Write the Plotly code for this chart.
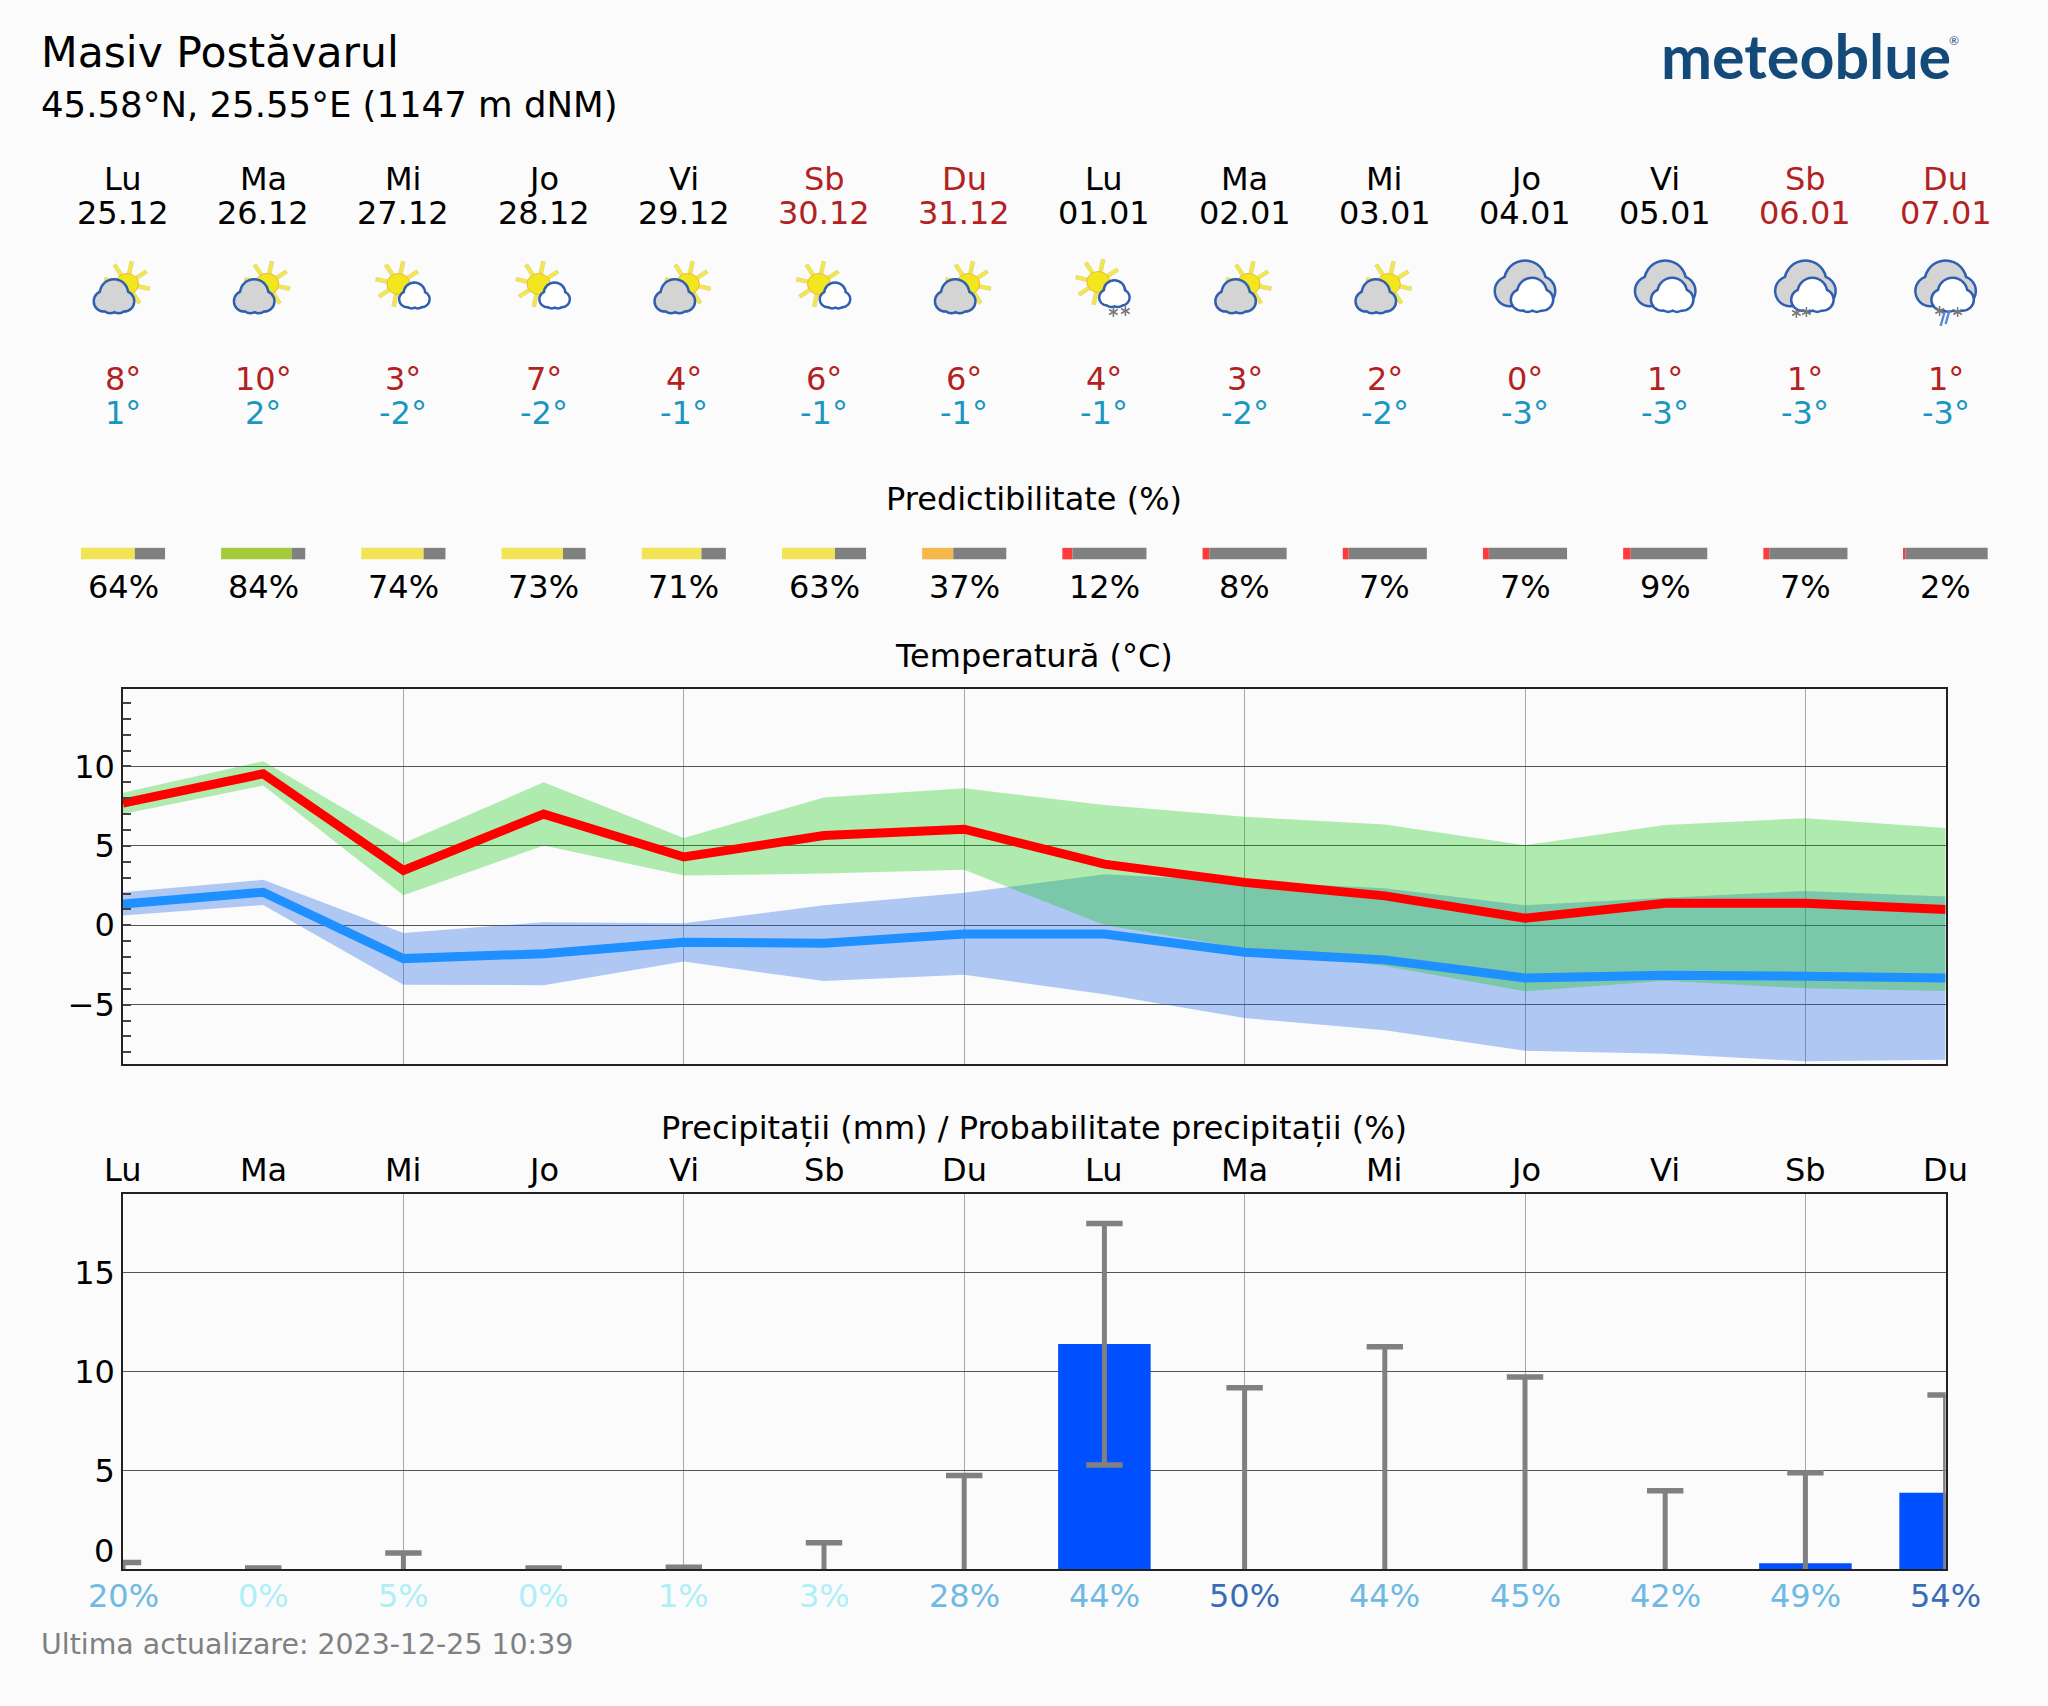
import base64
import math
import plotly.graph_objects as go

W, H = 2048, 1706

# ---------- data ----------
day_names = ["Lu", "Ma", "Mi", "Jo", "Vi", "Sb", "Du", "Lu", "Ma", "Mi", "Jo", "Vi", "Sb", "Du"]
dates = ["25.12", "26.12", "27.12", "28.12", "29.12", "30.12", "31.12",
         "01.01", "02.01", "03.01", "04.01", "05.01", "06.01", "07.01"]
weekend = [False, False, False, False, False, True, True, False, False, False, False, False, True, True]
icon_kinds = ["A", "A", "B", "B", "A", "B", "A", "C", "A", "A", "D", "D", "E", "F"]
tmax_label = [8, 10, 3, 7, 4, 6, 6, 4, 3, 2, 0, 1, 1, 1]
tmin_label = [1, 2, -2, -2, -1, -1, -1, -1, -2, -2, -3, -3, -3, -3]
predict = [64, 84, 74, 73, 71, 63, 37, 12, 8, 7, 7, 9, 7, 2]
predict_col = ["#f2e455", "#a4c93a", "#f2e455", "#f2e455", "#f2e455", "#f2e455", "#f5b84a",
               "#ff3b3b", "#ff3b3b", "#ff3b3b", "#ff3b3b", "#ff3b3b", "#ff3b3b", "#ff3b3b"]

days = list(range(14))
t_max_mean = [7.7, 9.54, 3.45, 7.0, 4.3, 5.65, 6.05, 3.85, 2.7, 1.85, 0.44, 1.39, 1.39, 1.0]
t_max_high = [8.35, 10.33, 5.17, 9.0, 5.5, 8.05, 8.63, 7.58, 6.83, 6.34, 5.04, 6.32, 6.74, 6.13]
t_max_low = [7.0, 8.8, 1.89, 5.02, 3.13, 3.26, 3.49, 0.02, -1.45, -2.56, -4.16, -3.49, -3.97, -4.14]
t_min_mean = [1.34, 2.08, -2.1, -1.79, -1.07, -1.13, -0.55, -0.55, -1.7, -2.18, -3.32, -3.15, -3.21, -3.32]
t_min_high = [2.08, 2.86, -0.48, 0.19, 0.13, 1.26, 2.04, 3.21, 2.75, 2.33, 1.26, 1.74, 2.16, 1.81]
t_min_low = [0.61, 1.28, -3.74, -3.78, -2.29, -3.51, -3.11, -4.35, -5.84, -6.62, -7.9, -8.09, -8.57, -8.47]

precip = [0, 0, 0, 0, 0, 0, 0, 11.4, 0, 0, 0, 0, 0.3, 3.88]
precip_high = [0.34, 0.07, 0.83, 0.07, 0.1, 1.35, 4.75, 17.5, 9.19, 11.26, 9.73, 3.98, 4.89, 8.82]
precip_low = [0, 0, 0, 0, 0, 0, 0, 5.28, 0, 0, 0, 0, 0, 0]
precip_prob = [20, 0, 5, 0, 1, 3, 28, 44, 50, 44, 45, 42, 49, 54]
prob_col = ["#6fb9e3", "#aeeff8", "#aeeff8", "#aeeff8", "#aeeff8", "#aeeff8", "#6fb9e3",
            "#6fb9e3", "#3a6cb8", "#6fb9e3", "#6fb9e3", "#6fb9e3", "#6fb9e3", "#3a6cb8"]

# ---------- layout constants (pixels) ----------
BG = "#fbfbfb"
FONT = "DejaVu Sans"
L, R = 123.0, 1945.6
DX = (R - L) / 13
T1, B1 = 688.7, 1063.7
T2, B2 = 1194.3, 1569.3
FS = 32


def dom_y(top, bottom):
    return [1 - bottom / H, 1 - top / H]


# ---------- icons ----------
BLUE_STROKE = "#2f5fb0"


def sun(cx, cy):
    s = ""
    for k in range(8):
        a = math.radians(12 + 45 * k)
        sx, sy = math.sin(a), -math.cos(a)
        px, py = math.cos(a) * 1.9, math.sin(a) * 1.9
        r0, r1 = 11, 23
        pts = [(cx + sx * r0 + px, cy + sy * r0 + py), (cx + sx * r1 + px, cy + sy * r1 + py),
               (cx + sx * r1 - px, cy + sy * r1 - py), (cx + sx * r0 - px, cy + sy * r0 - py)]
        s += '<polygon points="%s" fill="#f3e84a" stroke="#d9cf7a" stroke-width="0.6"/>' % " ".join(
            "%.1f,%.1f" % p for p in pts)
    s += '<ellipse cx="%s" cy="%s" rx="11.5" ry="10.5" fill="#f2e61e" stroke="#f5b53a" stroke-width="1"/>' % (cx, cy)
    return s


def cloud(x, y, w, h, fill):
    # x,y = top-left of the box; circles scaled into the box
    blobs = [(0.24, 0.66, 0.24), (0.50, 0.36, 0.34), (0.76, 0.66, 0.24), (0.40, 0.78, 0.20), (0.62, 0.78, 0.20)]
    a = b = ""
    for u, v, r in blobs:
        cx, cy, rad = x + u * w, y + v * h, r * w
        a += '<circle cx="%.1f" cy="%.1f" r="%.1f" fill="%s" stroke="%s" stroke-width="5"/>' % (
            cx, cy, rad, BLUE_STROKE, BLUE_STROKE)
    for u, v, r in blobs:
        cx, cy, rad = x + u * w, y + v * h, r * w
        b += '<circle cx="%.1f" cy="%.1f" r="%.1f" fill="%s"/>' % (cx, cy, rad, fill)
    return a + b


def snow(x, y):
    s = ""
    for k in range(3):
        a = math.radians(60 * k + 90)
        dx, dy = 5 * math.cos(a), 5 * math.sin(a)
        s += '<line x1="%.1f" y1="%.1f" x2="%.1f" y2="%.1f" stroke="#777" stroke-width="1.5"/>' % (
            x - dx, y - dy, x + dx, y + dy)
    return s


def rain(x, y):
    return '<line x1="%s" y1="%s" x2="%s" y2="%s" stroke="#5b86d0" stroke-width="2.4"/>' % (x + 2, y, x - 2, y + 14)


def big_clouds():
    return cloud(6, 20, 58, 32, "#d4d4d4") + cloud(22, 34, 40, 24, "#ffffff")


ICON_BODY = {
    "A": sun(39, 34) + cloud(7, 34, 38, 26, "#d4d4d4"),
    "B": sun(30, 34) + cloud(32, 36, 28, 20, "#ffffff"),
    "C": sun(29, 32) + cloud(31, 33, 28, 22, "#ffffff") + snow(44, 62) + snow(56, 61),
    "D": big_clouds(),
    "E": big_clouds() + snow(26, 63) + snow(36, 62),
    "F": big_clouds() + snow(29, 61) + snow(47, 62) + rain(32, 62) + rain(37, 60),
}


def icon_uri(kind):
    svg = ('<svg xmlns="http://www.w3.org/2000/svg" width="70" height="80" viewBox="0 0 70 80">'
           + ICON_BODY[kind] + "</svg>")
    return "data:image/svg+xml;base64," + base64.b64encode(svg.encode()).decode()


# ---------- figure ----------
fig = go.Figure()

# temperature bands and lines
BAND_BLUE = "rgba(35,103,229,0.35)"
BAND_GREEN = "rgba(0,200,0,0.30)"
for hi, lo, col in [(t_min_high, t_min_low, BAND_BLUE), (t_max_high, t_max_low, BAND_GREEN)]:
    fig.add_trace(go.Scatter(x=days, y=lo, mode="lines", line=dict(width=0), xaxis="x", yaxis="y"))
    fig.add_trace(go.Scatter(x=days, y=hi, mode="lines", line=dict(width=0), fill="tonexty",
                             fillcolor=col, xaxis="x", yaxis="y"))
fig.add_trace(go.Scatter(x=days, y=t_max_mean, mode="lines", line=dict(color="#ff0000", width=9),
                         xaxis="x", yaxis="y"))
fig.add_trace(go.Scatter(x=days, y=t_min_mean, mode="lines", line=dict(color="#1e90ff", width=9),
                         xaxis="x", yaxis="y"))

# precipitation bars and whiskers
fig.add_trace(go.Bar(x=days, y=precip, width=0.66, marker=dict(color="#0050ff", line=dict(width=0)),
                     xaxis="x2", yaxis="y2"))
stem_x, stem_y, cap_x, cap_y = [], [], [], []
for d, lo, hi in zip(days, precip_low, precip_high):
    stem_x += [d, d, None]
    stem_y += [lo, hi, None]
    cap_x.append(d)
    cap_y.append(hi)
    if lo > 0:
        cap_x.append(d)
        cap_y.append(lo)
fig.add_trace(go.Scatter(x=stem_x, y=stem_y, mode="lines", line=dict(color="#808080", width=5),
                         xaxis="x2", yaxis="y2"))
fig.add_trace(go.Scatter(x=cap_x, y=cap_y, mode="markers",
                         marker=dict(symbol="line-ew", size=26, line=dict(color="#808080", width=5.5)),
                         xaxis="x2", yaxis="y2"))

# predictability bars on the full-page overlay axes
PY = 553.6
fig.add_trace(go.Bar(orientation="h", base=[d - 0.3 for d in days], x=[0.6 * p / 100 for p in predict],
                     y=[PY] * 14, width=11.5, marker=dict(color=predict_col, line=dict(width=0)),
                     xaxis="x3", yaxis="y3"))
fig.add_trace(go.Bar(orientation="h", base=[d - 0.3 + 0.6 * p / 100 for d, p in zip(days, predict)],
                     x=[0.6 * (100 - p) / 100 for p in predict],
                     y=[PY] * 14, width=11.5, marker=dict(color="#808080", line=dict(width=0)),
                     xaxis="x3", yaxis="y3"))

ann = []


def text(x, y, s, size=FS, color="#000000", anchor="center", xref="x3", family=FONT, weight=None):
    f = dict(family=family, size=size, color=color)
    if weight:
        f["weight"] = weight
    ann.append(dict(x=x, y=y, text=s, xref=xref, yref="y3", showarrow=False, xanchor=anchor, yanchor="middle",
                    font=f))


def px2d(p):
    return (p - L) / DX


text(px2d(38.5), 52, "Masiv Postăvarul", size=42.5, anchor="left")
text(px2d(38.5), 104, "45.58°N, 25.55°E (1147 m dNM)", size=35.5, anchor="left")
text(px2d(1806), 55, "meteoblue", size=61, color="#144a7a", family="Lato", weight=700)
text(px2d(1947), 40, "®", size=12, color="#144a7a", family="Lato", anchor="left")
text(px2d(1034.3), 499, "Predictibilitate (%)")
text(px2d(1034.3), 656, "Temperatură (°C)")
text(px2d(1034.3), 1128, "Precipitații (mm) / Probabilitate precipitații (%)")
text(px2d(38.5), 1644, "Ultima actualizare: 2023-12-25 10:39", size=28.4, color="#808080", anchor="left")
text(px2d(116), 1551, "0", anchor="right")

images = []
for d in days:
    c = "#b22222" if weekend[d] else "#000000"
    text(d, 179, day_names[d], color=c)
    text(d, 213, dates[d], color=c)
    text(d, 379, "%d°" % tmax_label[d], color="#b22222")
    text(d, 413, "%d°" % tmin_label[d], color="#1a96c0")
    text(d, 587, "%d%%" % predict[d])
    text(d, 1170, day_names[d])
    text(d, 1596, "%d%%" % precip_prob[d], color=prob_col[d])
    images.append(dict(source=icon_uri(icon_kinds[d]), xref="x3", yref="y3", x=d, y=250,
                       sizex=70 / DX, sizey=80, sizing="stretch", xanchor="center", yanchor="top",
                       layer="above"))

GRID_H = "#555555"
GRID_V = "#a8a8a8"
AX = "#222222"
LW = 1.5
fig.update_layout(
    width=W, height=H, margin=dict(l=0, r=0, t=0, b=0),
    paper_bgcolor=BG, plot_bgcolor="rgba(0,0,0,0)", showlegend=False, hovermode=False, barmode="overlay",
    font=dict(family=FONT, size=FS, color="#000000"),
    annotations=ann, images=images,
    xaxis=dict(domain=[L / W, R / W], range=[0, 13], tickvals=[2, 4, 6, 8, 10, 12], ticks="", showticklabels=False,
               showgrid=True, gridcolor=GRID_V, gridwidth=1, zeroline=False, showline=True, mirror=True,
               linecolor=AX, linewidth=LW, anchor="y"),
    yaxis=dict(domain=dom_y(T1, B1), range=[-8.72, 14.9], tickvals=[-5, 0, 5, 10], ticks="inside", ticklen=8,
               tickwidth=1.5, tickcolor="#444444", showgrid=True, gridcolor=GRID_H, gridwidth=1.3, zeroline=False,
               showline=True, mirror=True, linecolor=AX, linewidth=LW, anchor="x", tickfont=dict(size=FS),
               minor=dict(dtick=1, tick0=0, ticks="inside", ticklen=8, tickwidth=1.5, tickcolor="#444444",
                          showgrid=False)),
    xaxis2=dict(domain=[L / W, R / W], range=[0, 13], tickvals=[2, 4, 6, 8, 10, 12], ticks="", showticklabels=False,
                showgrid=True, gridcolor=GRID_V, gridwidth=1, zeroline=False, showline=True, mirror=True,
                linecolor=AX, linewidth=LW, anchor="y2"),
    yaxis2=dict(domain=dom_y(T2, B2), range=[0, 18.98], tickvals=[5, 10, 15], ticks="", showgrid=True,
                gridcolor=GRID_H, gridwidth=1.3, zeroline=False, showline=True, mirror=True, linecolor=AX,
                linewidth=LW, anchor="x2", tickfont=dict(size=FS)),
    xaxis3=dict(domain=[0, 1], range=[-L / DX, (W - L) / DX], visible=False, anchor="y3", fixedrange=True),
    yaxis3=dict(domain=[0, 1], range=[H, 0], visible=False, anchor="x3", fixedrange=True),
)

fig.write_html("out.html", config=dict(displayModeBar=False),
               post_script="document.body.style.margin='0';document.body.style.background='%s';" % BG)
